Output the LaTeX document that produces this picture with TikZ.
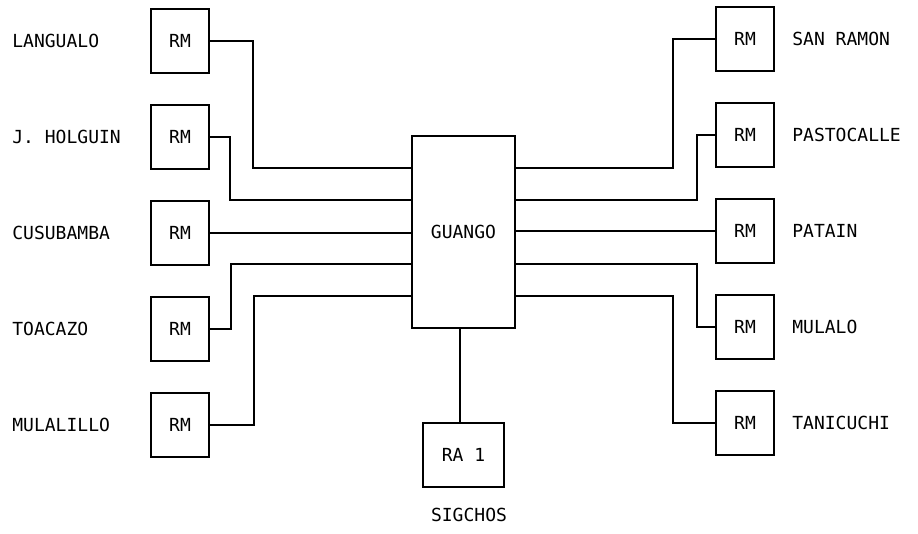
\documentclass[tikz,border=0pt]{standalone}
\usepackage{fontspec}
\setmainfont{DejaVu Sans Mono}
\usepackage{tikz}
\usetikzlibrary{positioning,calc}

\tikzset{
  rmbox/.style={draw, line width=1pt, minimum width=29pt, minimum height=32pt, inner sep=0pt},
  place/.style={anchor=west, inner sep=0pt},
  link/.style={line width=1pt}
}

\begin{document}
\begin{tikzpicture}[x=0.5pt, y=-0.5pt, font=\fontsize{9}{11}\selectfont]
  \useasboundingbox (0,0) rectangle (918,534);

  % central exchange
  \node[draw, line width=1pt, minimum width=51.5pt, minimum height=96pt, inner sep=0pt] (guango) at (463.5,232) {GUANGO};
  \node[rmbox, minimum width=40.5pt] (ra) at (463.5,455) {RA 1};
  \node[inner sep=0pt] (sigchos) at (469,515) {SIGCHOS};
  \draw[link] (ra.north -| 460,0) -- (guango.south -| 460,0);

  % left side
  \node[rmbox] (lm1) at (180,41) {RM};
  \node[rmbox] (lm2) at (180,137) {RM};
  \node[rmbox] (lm3) at (180,233) {RM};
  \node[rmbox] (lm4) at (180,329) {RM};
  \node[rmbox] (lm5) at (180,425) {RM};
  \node[place] (langualo) at (12,41) {LANGUALO};
  \node[place] (holguin) at (12,137) {J. HOLGUIN};
  \node[place] (cusubamba) at (12,233) {CUSUBAMBA};
  \node[place] (toacazo) at (12,329) {TOACAZO};
  \node[place] (mulalillo) at (12,425) {MULALILLO};

  % right side
  \node[rmbox] (rm1) at (745,39) {RM};
  \node[rmbox] (rm2) at (745,135) {RM};
  \node[rmbox] (rm3) at (745,231) {RM};
  \node[rmbox] (rm4) at (745,327) {RM};
  \node[rmbox] (rm5) at (745,423) {RM};
  \node[place] (sanramon) at (792,39) {SAN RAMON};
  \node[place] (pastocalle) at (792,135) {PASTOCALLE};
  \node[place] (patain) at (792,231) {PATAIN};
  \node[place] (mulalo) at (792,327) {MULALO};
  \node[place] (tanicuchi) at (792,423) {TANICUCHI};

  % links to GUANGO
  \draw[link] (lm1.east) -| ($(guango.west)+(-158,-64)$) -- ($(guango.west)+(0,-64)$);
  \draw[link] (lm2.east) -| ($(guango.west)+(-181,-32)$) -- ($(guango.west)+(0,-32)$);
  \draw[link] (lm3.east) -- (lm3.east -| guango.west);
  \draw[link] (lm4.east) -| ($(guango.west)+(-180,32)$) -- ($(guango.west)+(0,32)$);
  \draw[link] (lm5.east) -| ($(guango.west)+(-157,64)$) -- ($(guango.west)+(0,64)$);

  \draw[link] (rm1.west) -| ($(guango.east)+(157,-64)$) -- ($(guango.east)+(0,-64)$);
  \draw[link] (rm2.west) -| ($(guango.east)+(181,-32)$) -- ($(guango.east)+(0,-32)$);
  \draw[link] (rm3.west) -- (rm3.west -| guango.east);
  \draw[link] (rm4.west) -| ($(guango.east)+(181,32)$) -- ($(guango.east)+(0,32)$);
  \draw[link] (rm5.west) -| ($(guango.east)+(157,64)$) -- ($(guango.east)+(0,64)$);
\end{tikzpicture}
\end{document}
